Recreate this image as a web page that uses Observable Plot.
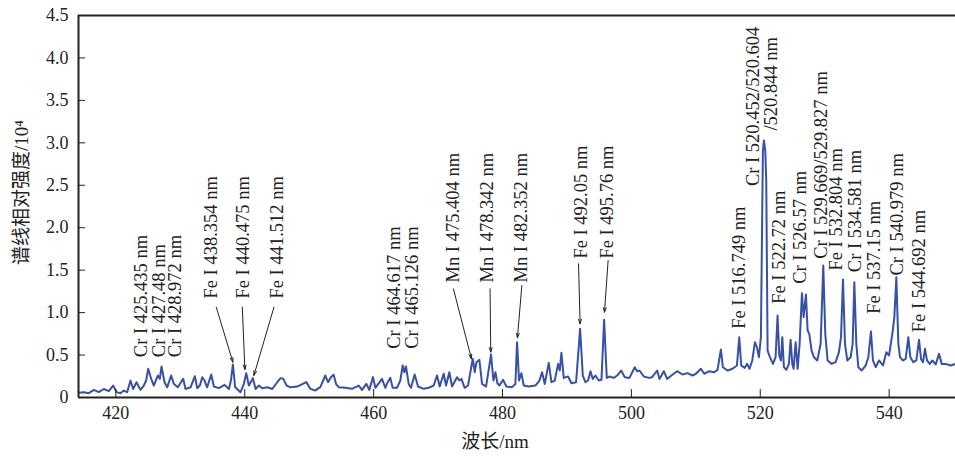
<!DOCTYPE html>
<html>
<head>
<meta charset="utf-8">
<script src="https://cdn.jsdelivr.net/npm/d3@7"></script>
<script src="https://cdn.jsdelivr.net/npm/@observablehq/plot@0.6"></script>
<style>
  html, body { margin: 0; padding: 0; background: #fff; }
  #chart svg { display: block; }
</style>
</head>
<body>
<div id="chart"></div>
<script>
// ---- Data ----
const wavelength = [
  414.2, 415.02, 415.8, 416.58, 417.35, 418.13, 418.9, 419.58, 420.1, 420.72, 421.23, 421.75,
  422.27, 422.68, 423.2, 423.82, 424.34, 424.7, 425.01, 425.48, 425.89, 426.51, 426.82, 427.08,
  427.55, 427.96, 428.58, 428.99, 429.62, 430.45, 430.81, 431.59, 432.26, 432.62, 433.04, 433.4,
  433.76, 434.17, 434.8, 435.21, 435.99, 436.87, 437.54, 437.85, 438.16, 438.52, 439.35, 439.87,
  440.23, 440.64, 441.27, 441.68, 442.2, 442.71, 443.49, 444.27, 445.04, 445.56, 445.98, 446.49,
  447.11, 448.15, 449.55, 450.17, 450.95, 451.73, 452.5, 452.92, 453.38, 453.8, 454.16, 454.57,
  455.61, 456.64, 457.68, 458.2, 458.87, 459.33, 459.9, 460.27, 461.3, 461.82, 462.18, 462.59,
  462.95, 463.63, 464.14, 464.51, 464.77, 465.02, 465.44, 465.8, 466.37, 466.89, 467.77, 468.54,
  469.32, 469.84, 470.25, 470.87, 471.24, 471.75, 472.17, 472.94, 473.31, 473.62, 474.13, 474.65,
  475.38, 475.69, 475.95, 476.41, 476.83, 477.45, 478.22, 478.59, 478.9, 479.21, 479.52, 480.09,
  480.6, 481.48, 482.0, 482.26, 482.57, 482.93, 483.3, 484.07, 485.11, 485.73, 486.14, 486.56,
  487.18, 487.59, 488.11, 488.63, 488.89, 489.14, 489.51, 490.18, 490.7, 491.42, 492.04, 492.46,
  492.87, 493.29, 493.65, 494.01, 494.42, 494.94, 495.36, 495.77, 496.18, 496.6, 497.27, 497.79,
  498.41, 498.98, 499.7, 500.53, 500.89, 501.26, 501.93, 502.71, 503.22, 504.0, 504.36, 505.03,
  505.55, 506.22, 507.1, 507.94, 508.72, 509.49, 510.01, 510.79, 511.3, 512.08, 512.86, 513.37,
  513.89, 514.2, 514.93, 515.7, 516.38, 516.74, 517.05, 517.57, 517.98, 518.34, 518.76, 519.17,
  519.48, 519.79, 520.1, 520.41, 520.57, 520.78, 520.93, 521.14, 521.5, 521.97, 522.38, 522.69,
  522.95, 523.21, 523.42, 523.67, 524.04, 524.45, 524.71, 524.97, 525.18, 525.49, 525.8, 526.11,
  526.47, 526.73, 527.09, 527.35, 527.61, 527.97, 528.33, 528.85, 529.37, 529.78, 530.09, 530.45,
  531.08, 531.7, 532.21, 532.53, 532.84, 533.15, 533.51, 534.03, 534.34, 534.6, 534.91, 535.22,
  535.73, 536.36, 536.77, 537.18, 537.49, 537.91, 538.43, 539.05, 539.57, 539.98, 540.5, 540.81,
  541.12, 541.43, 541.69, 542.15, 542.57, 542.98, 543.29, 543.76, 544.22, 544.64, 544.95, 545.26,
  545.57, 545.88, 546.3, 546.71, 547.23, 547.74, 548.16, 548.78, 549.55, 550.33
];
const intensity = [
  0.055, 0.063, 0.051, 0.09, 0.063, 0.1, 0.075, 0.141, 0.063, 0.051, 0.082, 0.063,
  0.2, 0.1, 0.18, 0.09, 0.141, 0.2, 0.338, 0.22, 0.141, 0.259, 0.22, 0.365,
  0.18, 0.12, 0.259, 0.161, 0.12, 0.22, 0.1, 0.12, 0.251, 0.11, 0.141, 0.239,
  0.2, 0.12, 0.271, 0.129, 0.11, 0.149, 0.1, 0.2, 0.389, 0.12, 0.063, 0.161,
  0.286, 0.141, 0.228, 0.1, 0.141, 0.11, 0.12, 0.1, 0.18, 0.228, 0.22, 0.141,
  0.12, 0.129, 0.181, 0.102, 0.083, 0.122, 0.259, 0.181, 0.24, 0.267, 0.161, 0.122,
  0.114, 0.102, 0.141, 0.09, 0.161, 0.09, 0.24, 0.114, 0.219, 0.114, 0.18, 0.231,
  0.114, 0.114, 0.2, 0.377, 0.298, 0.365, 0.16, 0.114, 0.271, 0.129, 0.102, 0.114,
  0.141, 0.259, 0.129, 0.279, 0.141, 0.298, 0.129, 0.239, 0.2, 0.219, 0.114, 0.141,
  0.455, 0.298, 0.416, 0.443, 0.16, 0.129, 0.506, 0.2, 0.298, 0.168, 0.141, 0.208,
  0.129, 0.122, 0.16, 0.652, 0.2, 0.286, 0.141, 0.129, 0.141, 0.2, 0.298, 0.16,
  0.408, 0.18, 0.2, 0.396, 0.318, 0.526, 0.231, 0.247, 0.168, 0.18, 0.809, 0.259,
  0.18, 0.2, 0.31, 0.219, 0.259, 0.2, 0.208, 0.915, 0.231, 0.247, 0.231, 0.259,
  0.318, 0.239, 0.231, 0.357, 0.31, 0.318, 0.247, 0.231, 0.239, 0.318, 0.219, 0.31,
  0.219, 0.259, 0.31, 0.271, 0.287, 0.259, 0.279, 0.338, 0.279, 0.31, 0.298, 0.326,
  0.565, 0.357, 0.318, 0.338, 0.377, 0.711, 0.377, 0.349, 0.396, 0.338, 0.436, 0.652,
  0.593, 0.475, 0.711, 2.9, 3.027, 2.909, 2.556, 0.553, 0.475, 0.396, 0.475, 0.966,
  0.495, 0.436, 0.711, 0.357, 0.326, 0.396, 0.68, 0.396, 0.338, 0.652, 0.338, 0.632,
  1.229, 0.947, 1.213, 0.789, 0.75, 0.553, 0.475, 0.436, 0.632, 1.555, 0.75, 0.436,
  0.396, 0.416, 0.534, 0.711, 1.39, 0.632, 0.436, 0.475, 0.632, 1.358, 0.632, 0.357,
  0.318, 0.377, 0.475, 0.777, 0.436, 0.357, 0.436, 0.377, 0.534, 0.495, 0.75, 0.947,
  1.417, 0.632, 0.475, 0.436, 0.455, 0.711, 0.475, 0.416, 0.436, 0.68, 0.455, 0.416,
  0.573, 0.436, 0.396, 0.436, 0.389, 0.514, 0.396, 0.396, 0.377, 0.396
];

// Tick values and labels
const xTicks = [420, 440, 460, 480, 500, 520, 540];
const yTicks = [0, 0.5, 1.0, 1.5, 2.0, 2.5, 3.0, 3.5, 4.0, 4.5];
const yTickLabels = ["0", "0.5", "1.0", "1.5", "2.0", "2.5", "3.0", "3.5", "4.0", "4.5"];
const xDomain = [414.2, 550.3];
const yDomain = [0, 4.5];
const xTitle = "波长/nm";
const yTitle = "谱线相对强度/10⁴";

// Line annotations (text, anchor wavelength, anchor intensity)
const labelText = [
  "Cr I 425.435 nm", "Cr I 427.48 nm", "Cr I 428.972 nm",
  "Fe I 438.354 nm", "Fe I 440.475 nm", "Fe I 441.512 nm",
  "Cr I 464.617 nm", "Cr I 465.126 nm",
  "Mn I 475.404 nm", "Mn I 478.342 nm", "Mn I 482.352 nm",
  "Fe I 492.05 nm", "Fe I 495.76 nm",
  "Fe I 516.749 nm", "Cr I 520.452/520.604", "/520.844 nm",
  "Fe I 522.72 nm", "Cr I 526.57 nm", "Cr I 529.669/529.827 nm",
  "Fe I 532.804 nm", "Cr I 534.581 nm", "Fe I 537.15 nm",
  "Cr I 540.979 nm", "Fe I 544.692 nm"
];
const labelX = [
  423.94, 426.67, 429.26,
  434.7, 439.77, 445.05,
  463.16, 466.02,
  472.38, 477.55, 482.83,
  492.15, 496.3,
  516.64, 518.81, 521.66,
  522.85, 526.2, 529.42,
  531.75, 534.7, 537.6,
  541.22, 544.68
];
const labelY = [
  0.475, 0.475, 0.475,
  1.166, 1.166, 1.166,
  0.574, 0.574,
  1.355, 1.355, 1.355,
  1.637, 1.637,
  0.809, 2.491, 3.145,
  1.104, 1.339, 1.634,
  1.496, 1.476, 0.986,
  1.437, 0.769
];

// Arrows from labels to peaks
const arrowFromX = [435.58, 439.62, 444.53, 472.38, 478.07, 483.0, 491.8, 496.39];
const arrowFromY = [1.064, 1.064, 1.064, 1.28, 1.28, 1.319, 1.575, 1.614];
const arrowToX   = [438.16, 440.02, 441.42, 475.18, 478.18, 482.32, 492.04, 495.83];
const arrowToY   = [0.416, 0.33, 0.26, 0.456, 0.534, 0.703, 0.868, 1.005];

// ---- Build ----
const spectrum = wavelength.map((w, i) => ({w, v: intensity[i]}));
const arrows = arrowFromX.map((d, i) => ({x1: d, y1: arrowFromY[i], x2: arrowToX[i], y2: arrowToY[i]}));
const labels = labelText.map((t, i) => ({t, x: labelX[i], y: labelY[i]}));

const serif = "'Liberation Serif', 'DejaVu Serif', 'Noto Sans CJK SC', serif";
const ink = "#222";

const chart = Plot.plot({
  width: 955,
  height: 459,
  marginLeft: 78,
  marginRight: 0,
  marginTop: 15,
  marginBottom: 62,
  style: {fontFamily: serif, fontSize: "18px", color: ink, background: "#fff"},
  x: {domain: xDomain},
  y: {domain: yDomain},
  marks: [
    Plot.line(spectrum, {x: "w", y: "v", stroke: "#3651a6", strokeWidth: 2, clip: true}),
    Plot.ruleY([yDomain[0]], {stroke: ink, strokeWidth: 2}),
    Plot.ruleY([yDomain[1]], {stroke: ink, strokeWidth: 2}),
    Plot.ruleX([xDomain[0]], {stroke: ink, strokeWidth: 2}),
    Plot.axisY({ticks: yTicks, tickFormat: (d) => yTickLabels[yTicks.indexOf(d)], tickSize: -7, tickPadding: 17, label: null, fontSize: 18, stroke: ink, fill: ink}),
    Plot.axisX({ticks: xTicks, tickFormat: (d) => String(d), tickSize: -8, tickPadding: 17, label: null, fontSize: 18, stroke: ink, fill: ink}),
    Plot.text(labels, {x: "x", y: "y", text: "t", rotate: -90, textAnchor: "start", lineAnchor: "middle", fontSize: 18.5, fill: ink}),
    Plot.arrow(arrows, {x1: "x1", y1: "y1", x2: "x2", y2: "y2", stroke: ink, strokeWidth: 1, headLength: 7, headAngle: 35}),
    Plot.text([yTitle], {frameAnchor: "left", textAnchor: "middle", lineAnchor: "middle", dx: -57, dy: -14, rotate: -90, fontSize: 19, fill: ink}),
    Plot.text([xTitle], {frameAnchor: "bottom", textAnchor: "middle", lineAnchor: "middle", dx: -22, dy: 44, fontSize: 19, fill: ink})
  ]
});
document.getElementById("chart").appendChild(chart);
</script>
</body>
</html>
